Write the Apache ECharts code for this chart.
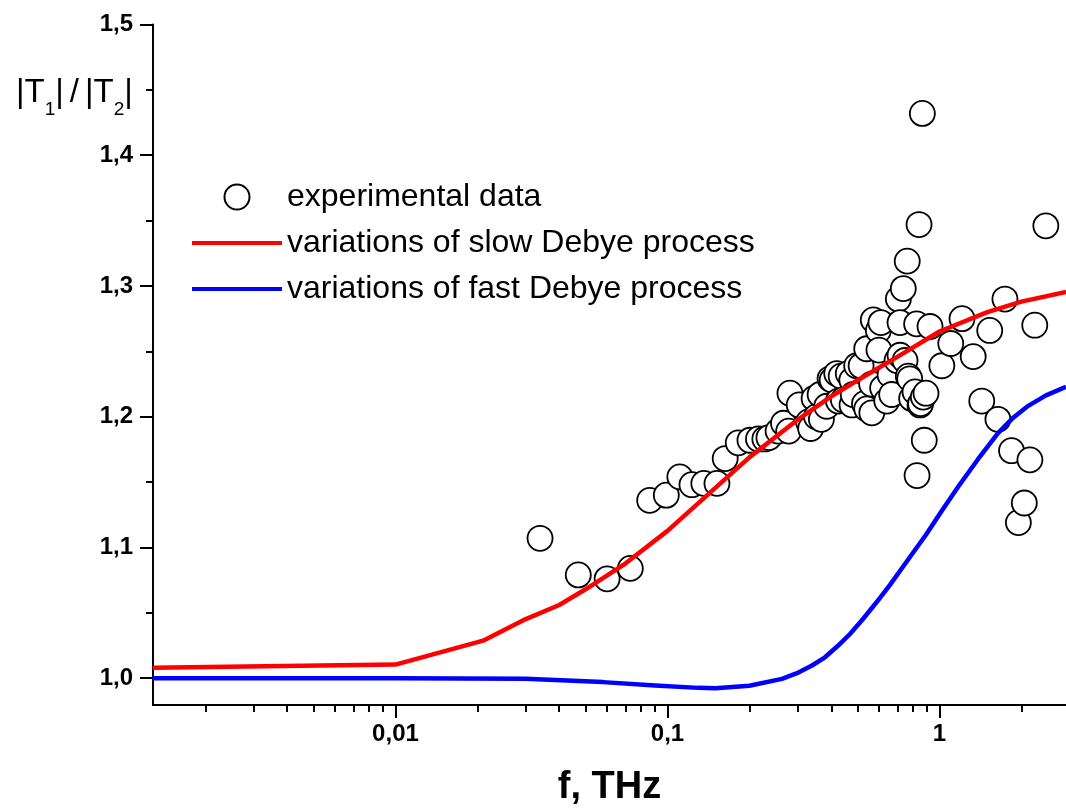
<!DOCTYPE html>
<html><head><meta charset="utf-8">
<script src="https://cdn.jsdelivr.net/npm/echarts@6.0.0/dist/echarts.min.js"></script>
<style>html,body{margin:0;padding:0;background:#fff}#chart{width:1066px;height:812px}</style>
</head><body><div id="chart"></div>
<script>
// Experimental data
const expFreq = [0.034,0.047,0.060,0.073,0.086,0.099,0.111,0.123,0.136,0.152,0.163,0.182,0.201,0.216,0.228,0.236,0.255,0.267,0.282,0.279,0.305,0.330,0.336,0.346,0.353,0.364,0.368,0.385,0.396,0.403,0.419,0.425,0.435,0.443,0.462,0.476,0.477,0.482,0.496,0.515,0.530,0.540,0.540,0.563,0.564,0.571,0.596,0.599,0.609,0.618,0.640,0.658,0.667,0.698,0.706,0.716,0.716,0.736,0.747,0.761,0.768,0.777,0.790,0.813,0.824,0.827,0.841,0.848,0.852,0.865,0.872,0.879,0.892,0.923,1.02,1.10,1.21,1.33,1.43,1.53,1.64,1.74,1.84,1.95,2.05,2.15,2.24,2.46];
const expRatio = [1.107,1.079,1.076,1.084,1.136,1.140,1.154,1.148,1.149,1.149,1.168,1.180,1.182,1.183,1.183,1.184,1.189,1.195,1.218,1.189,1.209,1.196,1.191,1.214,1.200,1.217,1.198,1.208,1.229,1.228,1.233,1.212,1.231,1.213,1.233,1.228,1.209,1.217,1.239,1.239,1.210,1.206,1.252,1.225,1.203,1.274,1.266,1.251,1.272,1.222,1.212,1.232,1.217,1.243,1.290,1.272,1.247,1.298,1.243,1.319,1.231,1.229,1.214,1.219,1.271,1.155,1.347,1.209,1.210,1.432,1.215,1.182,1.218,1.269,1.239,1.256,1.275,1.246,1.212,1.266,1.198,1.290,1.174,1.119,1.134,1.167,1.270,1.346];
// Slow Debye process
const slowFreq = [0.00128,0.01,0.021,0.03,0.04,0.05,0.07,0.1,0.15,0.2,0.3,0.4,0.5,0.7,1.0,1.5,2.0,2.92];
const slowRatio = [1.008,1.0104,1.0287,1.045,1.056,1.068,1.0877,1.1127,1.1456,1.1689,1.1975,1.2155,1.2279,1.2458,1.2652,1.280,1.288,1.2955];
// Fast Debye process
const fastFreq = [0.00128,0.01,0.03,0.058,0.09,0.13,0.15,0.2,0.2636,0.2993,0.3398,0.3793,0.4233,0.4688,0.5233,0.584,0.6577,0.7659,0.892,1.0214,1.1747,1.3853,1.6412,1.8473,2.0973,2.4633,2.918];
const fastRatio = [1.0,1.0,0.9995,0.997,0.9944,0.9926,0.9924,0.9942,0.9995,1.0038,1.0097,1.016,1.0248,1.0338,1.0453,1.0575,1.0714,1.0906,1.1097,1.1283,1.1468,1.1675,1.1874,1.1984,1.2077,1.2163,1.2229];
// Ticks
const xMajorTicks = [0.01, 0.1, 1];
const xMinorTicks = [0.002,0.003,0.004,0.005,0.006,0.007,0.008,0.009,0.02,0.03,0.04,0.05,0.06,0.07,0.08,0.09,0.2,0.3,0.4,0.5,0.6,0.7,0.8,0.9,2];
const yMajorTicks = [1.0, 1.1, 1.2, 1.3, 1.4, 1.5];
const yMinorTicks = [1.05, 1.15, 1.25, 1.35, 1.45];
const seriesNames = ['experimental data', 'variations of slow Debye process', 'variations of fast Debye process'];

const zip = (a, b) => a.map((v, i) => [v, b[i]]);
const FONT = '"Liberation Sans", Arial, sans-serif';
const xMin = 0.001284, xMax = 2.918, yMin = 0.9795, yMax = 1.5;
const lineIcon = 'path://M0,0H90V4H0Z';

const chart = echarts.init(document.getElementById('chart'), null, {renderer: 'canvas'});
chart.setOption({
  animation: false,
  backgroundColor: '#fff',
  title: {
    left: 11, top: 62,
    text: '{m||T}{s|1}{m||}{g|/}{m||T}{s|2}{m||}',
    textStyle: {
      fontWeight: 'normal',
      rich: {
        m: {fontSize: 33, fontWeight: 'normal', fontFamily: FONT, color: '#000', lineHeight: 52, verticalAlign: 'middle'},
        g: {fontSize: 33, fontWeight: 'normal', fontFamily: FONT, color: '#000', lineHeight: 52, verticalAlign: 'middle', padding: [0, 6, 0, 6]},
        s: {fontSize: 19, fontWeight: 'normal', fontFamily: FONT, color: '#000', lineHeight: 20, verticalAlign: 'bottom'}
      }
    }
  },
  legend: {
    left: 187, top: 176, orient: 'vertical',
    itemWidth: 90, itemHeight: 25, itemGap: 14,
    textStyle: {fontSize: 32, fontFamily: FONT, color: '#000'},
    data: [
      {name: seriesNames[0]},
      {name: seriesNames[1], icon: lineIcon},
      {name: seriesNames[2], icon: lineIcon}
    ]
  },
  grid: {left: 153, right: 0, top: 24.5, bottom: 104, containLabel: false},
  xAxis: [{
    type: 'log', min: xMin, max: xMax, logBase: 10,
    axisLine: {show: true, lineStyle: {color: '#000', width: 2}},
    axisTick: {show: true, customValues: xMajorTicks, length: 13, lineStyle: {color: '#000', width: 2}},
    axisLabel: {customValues: xMajorTicks, margin: 17, fontSize: 24, fontWeight: 'bold', fontFamily: FONT, color: '#000',
      formatter: v => String(v).replace('.', ',')},
    splitLine: {show: false}, minorTick: {show: false},
    name: 'f, THz', nameLocation: 'middle', nameGap: 64,
    nameTextStyle: {fontSize: 38, fontWeight: 'bold', fontFamily: FONT, color: '#000'}
  }, {
    type: 'log', min: xMin, max: xMax, logBase: 10, position: 'bottom',
    axisLine: {show: false},
    axisTick: {show: true, customValues: xMinorTicks, length: 7, lineStyle: {color: '#000', width: 2}},
    axisLabel: {show: false}, splitLine: {show: false}
  }],
  yAxis: [{
    type: 'value', min: yMin, max: yMax,
    axisLine: {show: true, lineStyle: {color: '#000', width: 2}},
    axisTick: {show: true, customValues: yMajorTicks, length: 13, lineStyle: {color: '#000', width: 2}},
    axisLabel: {customValues: yMajorTicks, margin: 20, fontSize: 24, fontWeight: 'bold', fontFamily: FONT, color: '#000',
      formatter: v => v.toFixed(1).replace('.', ',')},
    splitLine: {show: false}
  }, {
    type: 'value', min: yMin, max: yMax, position: 'left',
    axisLine: {show: false},
    axisTick: {show: true, customValues: yMinorTicks, length: 7, lineStyle: {color: '#000', width: 2}},
    axisLabel: {show: false}, splitLine: {show: false}
  }],
  series: [{
    name: seriesNames[0], type: 'scatter', xAxisIndex: 0, yAxisIndex: 0,
    symbol: 'circle', symbolSize: 25,
    itemStyle: {color: '#fff', borderColor: '#000', borderWidth: 1.8, opacity: 1},
    data: zip(expFreq, expRatio), z: 2
  }, {
    name: seriesNames[1], type: 'line', xAxisIndex: 0, yAxisIndex: 0,
    symbol: 'none', showSymbol: false, smooth: false,
    lineStyle: {color: '#ff0000', width: 4.5, join: 'round'}, itemStyle: {color: '#ff0000'},
    data: zip(slowFreq, slowRatio), z: 3
  }, {
    name: seriesNames[2], type: 'line', xAxisIndex: 0, yAxisIndex: 0,
    symbol: 'none', showSymbol: false, smooth: false,
    lineStyle: {color: '#0000ff', width: 4.5, join: 'round'}, itemStyle: {color: '#0000ff'},
    data: zip(fastFreq, fastRatio), z: 3
  }]
});
</script></body></html>
